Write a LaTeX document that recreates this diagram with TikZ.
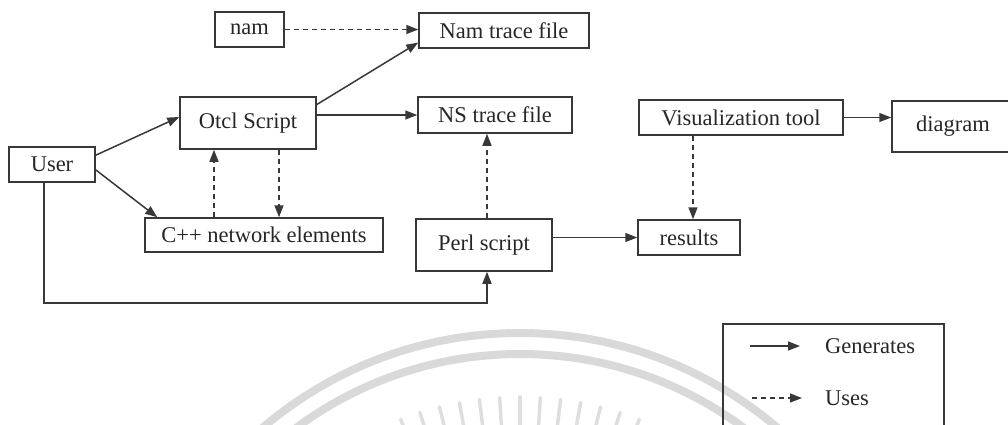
\documentclass[tikz,border=0pt]{standalone}
\usepackage{fontspec}
\setmainfont{Liberation Serif}
\usetikzlibrary{arrows.meta}
\begin{document}
\begin{tikzpicture}[x=1pt,y=-1pt,
  box/.style={draw=black!78, line width=1.5pt, inner sep=0pt,
    font=\fontsize{22.5}{26}\selectfont, text=black!85},
  lbl/.style={inner sep=0pt, anchor=west,
    font=\fontsize{22.5}{26}\selectfont, text=black!85},
  gen/.style={draw=black!78, line width=1.5pt,
    -{Triangle[length=12pt,width=9pt]}},
  uses/.style={gen, dash pattern=on 5pt off 4pt},
  sealring/.style={draw=black!15, line width=8pt},
  sealray/.style={draw=black!13, line width=3.5pt, line cap=round},
]
\useasboundingbox (0,0) rectangle (1008,424);
\clip (0,0) rectangle (1008,424);

% faint seal in the background
\begin{scope}[shift={(520,730)}]
  \draw[sealring] (0,0) circle[radius=397pt];
  \draw[sealring] (0,0) circle[radius=376pt];
  \foreach \a in {69,72.5,...,111} {
    \draw[sealray] (\a:333pt) -- (\a:290pt);
  }
\end{scope}

% process boxes
\node[box, minimum width=69pt,  minimum height=35pt] (nam)      at (249.5,29.5) {nam};
\node[box, minimum width=170pt, minimum height=35pt] (namtrace) at (504,30.5)   {Nam trace file};
\node[box, minimum width=136pt, minimum height=52pt] (otcl)     at (248,123)    {Otcl Script};
\node[box, minimum width=154pt, minimum height=36pt] (ns)       at (495,115)    {NS trace file};
\node[box, minimum width=204pt, minimum height=35pt] (vis)      at (741,117.5)  {Visualization tool};
\node[box, minimum width=122pt, minimum height=51pt] (diag)     at (953,126.5)  {diagram};
\node[box, minimum width=86pt,  minimum height=35pt] (user)     at (52,164.5)   {User};
\node[box, minimum width=238pt, minimum height=34pt] (cpp)      at (264,235)    {C++ network elements};
\node[box, minimum width=136pt, minimum height=52pt] (perl)     at (484,245)    {Perl script};
\node[box, minimum width=102pt, minimum height=35pt] (results)  at (689,237.5)  {results};

% columns and rows used by straight connectors
\coordinate (xa) at (214,0);
\coordinate (xb) at (279,0);
\coordinate (xc) at (487,0);
\coordinate (xd) at (693,0);
\coordinate (xu) at (44,0);
\coordinate (yb) at (0,303);

% connectors
\draw[uses] (nam.east) -- (nam.east -| namtrace.west);
\draw[gen] (otcl.15) -- (namtrace.188);
\draw[gen] (ns.west -| otcl.east) -- (ns.west);
\draw[gen] (user.12) -- (otcl.175);
\draw[gen] (user.-7) -- ([xshift=13pt]cpp.north west);
\draw[uses] (cpp.north -| xa) -- (otcl.south -| xa);
\draw[uses] (otcl.south -| xb) -- (cpp.north -| xb);
\draw[uses] (perl.north -| xc) -- (ns.south -| xc);
\draw[gen] (results.west -| perl.east) -- (results.west);
\draw[uses] (vis.south -| xd) -- (results.north -| xd);
\draw[gen] (vis.east) -- (vis.east -| diag.west);
\draw[gen] (user.south -| xu) -- (xu |- yb) -- (xc |- yb) -- (perl.south -| xc);

% legend
\draw[draw=black!78, line width=1.5pt] (723,324) rectangle (944,432);
\coordinate (g1) at (750,346);
\coordinate (g2) at (800,346);
\coordinate (u1) at (752,398);
\coordinate (u2) at (802,398);
\draw[gen] (g1) -- (g2);
\draw[uses] (u1) -- (u2);
\node[lbl] (lgen) at (825,346) {Generates};
\node[lbl] (luse) at (825,398) {Uses};
\end{tikzpicture}
\end{document}
